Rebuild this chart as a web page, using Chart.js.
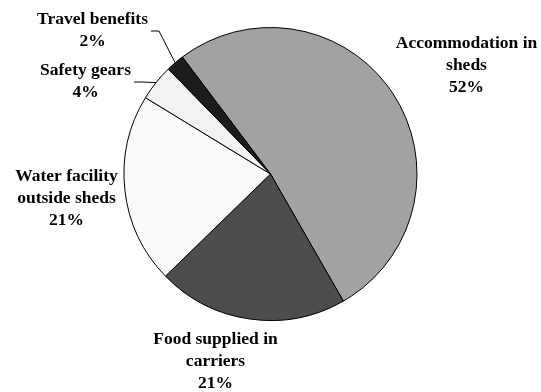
<!DOCTYPE html>
<html>
<head>
<meta charset="utf-8">
<script src="https://cdn.jsdelivr.net/npm/chart.js@4.4.1/dist/chart.umd.min.js"></script>
<style>
  html, body { margin: 0; padding: 0; background: #ffffff; }
  #wrap { width: 541px; height: 392px; position: relative; }
</style>
</head>
<body>
<div id="wrap"><canvas id="pie"></canvas></div>
<script>
// Facilities provided, share of respondents (%)
const categories = [
  'Accommodation in sheds',
  'Food supplied in carriers',
  'Water facility outside sheds',
  'Safety gears',
  'Travel benefits'
];
const shares = [52, 21, 21, 4, 2];
const sliceColors = ['#a2a2a2', '#4d4d4d', '#fafafa', '#f2f2f2', '#1c1c1c'];

// Label text lines per slice
const labelLines = [
  ['Accommodation in', 'sheds'],
  ['Food supplied in', 'carriers'],
  ['Water facility', 'outside sheds'],
  ['Safety gears'],
  ['Travel benefits']
];

// Label placement: offset of text block centre from pie centre (px),
// and whether a leader line joins label to slice
const labelLayout = [
  { dx: 196, dy: -109, leader: false },
  { dx: -55, dy: 187, leader: false },
  { dx: -204, dy: 24, leader: false },
  { dx: -185, dy: -93, leader: true },
  { dx: -178, dy: -144, leader: true }
];

const LINE_H = 22;
const FONT = 'bold 17.5px "Liberation Serif", "Times New Roman", serif';

const pieLabels = {
  id: 'pieLabels',
  afterDatasetsDraw(chart) {
    const ctx = chart.ctx;
    const meta = chart.getDatasetMeta(0);
    const total = shares.reduce((a, b) => a + b, 0);
    ctx.save();
    ctx.font = FONT;
    ctx.fillStyle = '#000000';
    ctx.textAlign = 'center';
    ctx.textBaseline = 'middle';
    meta.data.forEach((arc, i) => {
      const p = arc.getProps(['x', 'y', 'startAngle', 'endAngle', 'outerRadius'], true);
      const lay = labelLayout[i];
      const lines = labelLines[i].concat([Math.round(shares[i] / total * 100) + '%']);
      const cx = p.x + lay.dx;
      const cy = p.y + lay.dy;
      const top = cy - (lines.length - 1) * LINE_H / 2;
      lines.forEach((t, k) => ctx.fillText(t, cx, top + k * LINE_H));
      if (lay.leader) {
        const mid = (p.startAngle + p.endAngle) / 2;
        const ex = p.x + Math.cos(mid) * p.outerRadius;
        const ey = p.y + Math.sin(mid) * p.outerRadius;
        const w = ctx.measureText(lines[0]).width;
        const sx = cx + w / 2 + 3;
        const sy = top + LINE_H / 2 + 1;
        ctx.beginPath();
        ctx.strokeStyle = '#000000';
        ctx.lineWidth = 1;
        ctx.moveTo(sx, sy);
        ctx.lineTo(sx + 8, sy);
        ctx.lineTo(ex, ey);
        ctx.stroke();
      }
    });
    ctx.restore();
  }
};

new Chart(document.getElementById('pie'), {
  type: 'pie',
  data: {
    labels: categories,
    datasets: [{
      data: shares,
      backgroundColor: sliceColors,
      borderColor: '#000000',
      borderWidth: 1
    }]
  },
  options: {
    responsive: true,
    maintainAspectRatio: false,
    animation: false,
    rotation: -37,
    layout: { padding: { top: 27, bottom: 71, left: 0, right: 0 } },
    plugins: {
      legend: { display: false },
      tooltip: { enabled: false },
      title: { display: false }
    }
  },
  plugins: [pieLabels]
});
</script>
</body>
</html>
